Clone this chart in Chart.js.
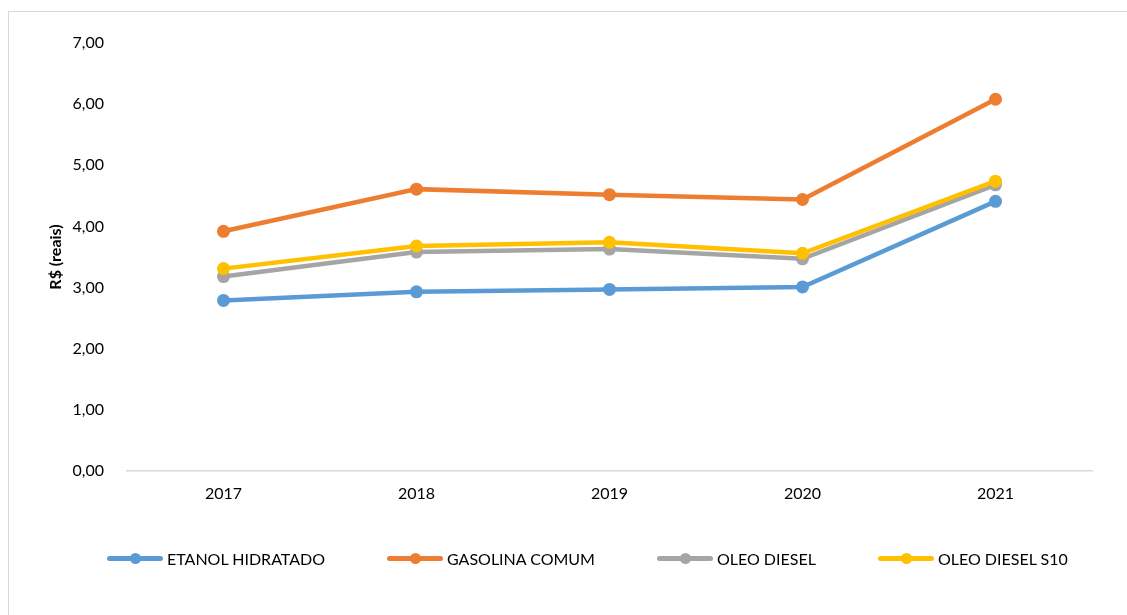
<!DOCTYPE html>
<html lang="pt-BR">
<head>
    <meta charset="UTF-8">
    <title>Preço médio dos combustíveis</title>
    <script src="https://cdn.jsdelivr.net/npm/chart.js@4.4.0/dist/chart.umd.min.js"></script>
    <style>
        body {
            margin: 0;
            background: #ffffff;
            font-family: 'Lato', 'Open Sans', sans-serif;
            overflow: hidden;
        }

        .frame {
            position: absolute;
            left: 8px;
            top: 11px;
            width: 1119px;
            height: 604px;
            border-top: 1.5px solid #d9d9d9;
            border-left: 1.5px solid #d9d9d9;
        }

        .chart-box {
            position: absolute;
            left: 0;
            top: 0;
            width: 1127px;
            height: 615px;
        }

        /* legenda em HTML, gerada a partir dos datasets */
        #legend {
            position: absolute;
            top: 549px;
            left: 107px;
            width: 1000px;
            display: flex;
            font-size: 16px;
            color: #000;
            white-space: nowrap;
        }

        .legend-item {
            display: flex;
            align-items: center;
            flex-shrink: 0;
            margin-right: 62px;
        }

        .legend-line {
            position: relative;
            flex-shrink: 0;
            width: 56px;
            height: 5px;
            border-radius: 3px;
            margin-right: 4px;
        }

        .legend-dot {
            position: absolute;
            left: 23px;
            top: -3px;
            width: 11px;
            height: 11px;
            border-radius: 50%;
        }
    </style>
</head>
<body>
    <div class="frame"></div>
    <div class="chart-box">
        <canvas id="fuelChart" width="1127" height="615"></canvas>
    </div>
    <div id="legend"></div>

    <script>
        // Anos (categorias)
        const years = ['2017', '2018', '2019', '2020', '2021'];

        // Preço médio em R$ por ano
        const etanolHidratado = [2.79, 2.93, 2.97, 3.01, 4.41];
        const gasolinaComum = [3.92, 4.61, 4.52, 4.44, 6.08];
        const oleoDiesel = [3.18, 3.58, 3.63, 3.47, 4.68];
        const oleoDieselS10 = [3.31, 3.68, 3.74, 3.56, 4.74];

        const seriesNames = ['ETANOL HIDRATADO', 'GASOLINA COMUM', 'OLEO DIESEL', 'OLEO DIESEL S10'];
        const seriesColors = ['#5b9bd5', '#ed7d31', '#a5a5a5', '#ffc000'];
        const seriesValues = [etanolHidratado, gasolinaComum, oleoDiesel, oleoDieselS10];

        const fmt = v => v.toFixed(2).replace('.', ',');

        const datasets = seriesNames.map((name, i) => ({
            label: name,
            data: seriesValues[i],
            borderColor: seriesColors[i],
            backgroundColor: seriesColors[i],
            borderWidth: 4.5,
            pointRadius: 6.5,
            pointHoverRadius: 6.5,
            pointBorderWidth: 0,
            tension: 0,
            order: seriesNames.length - i  // a última série fica por cima, como no Excel
        }));

        const ctx = document.getElementById('fuelChart').getContext('2d');
        const fuelChart = new Chart(ctx, {
            type: 'line',
            data: { labels: years, datasets: datasets },
            options: {
                responsive: false,
                animation: false,
                layout: {
                    padding: { left: 42, top: 43, right: 35, bottom: 0 }
                },
                plugins: {
                    legend: { display: false },
                    tooltip: { enabled: false }
                },
                scales: {
                    x: {
                        offset: true,
                        grid: { display: false, drawTicks: false },
                        border: { display: true, color: '#d9d9d9', width: 1.5 },
                        ticks: {
                            padding: 13,
                            color: '#000',
                            font: { family: 'Lato', size: 16 }
                        },
                        afterFit: axis => { axis.height = 144; }
                    },
                    y: {
                        min: 0,
                        max: 7,
                        grid: { display: false, drawTicks: false },
                        border: { display: false },
                        ticks: {
                            stepSize: 1,
                            padding: 23,
                            color: '#000',
                            font: { family: 'Lato', size: 16 },
                            callback: value => fmt(value)
                        },
                        title: {
                            display: true,
                            text: 'R$ (reais)',
                            color: '#000',
                            padding: { top: 4, bottom: 0 },
                            font: { family: 'Lato', size: 16, weight: 'bold' }
                        },
                        afterFit: axis => { axis.width = 85; }
                    }
                }
            }
        });

        // Monta a legenda a partir dos datasets
        const legendEl = document.getElementById('legend');
        fuelChart.data.datasets.forEach(ds => {
            const item = document.createElement('div');
            item.className = 'legend-item';
            const line = document.createElement('span');
            line.className = 'legend-line';
            line.style.background = ds.borderColor;
            const dot = document.createElement('span');
            dot.className = 'legend-dot';
            dot.style.background = ds.borderColor;
            line.appendChild(dot);
            const text = document.createElement('span');
            text.textContent = ds.label;
            item.appendChild(line);
            item.appendChild(text);
            legendEl.appendChild(item);
        });
    </script>
</body>
</html>
